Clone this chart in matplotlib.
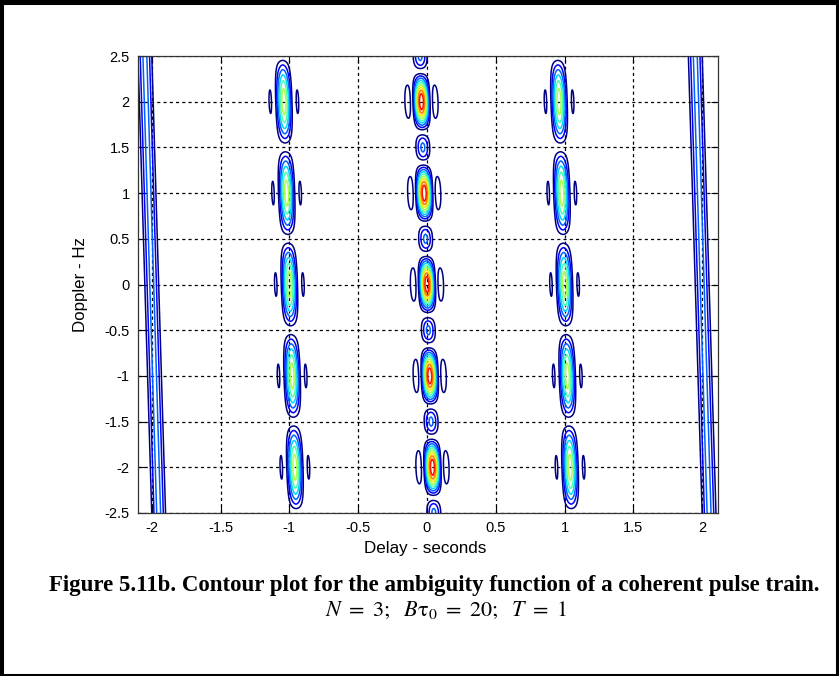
import numpy as np
import matplotlib
matplotlib.use("Agg")
import matplotlib.pyplot as plt
from matplotlib.patches import Rectangle

# ---- chart parameters (coherent pulse train ambiguity function) ----
N_pulses = 3            # N
PRI = 1.0               # T (s)
B_tau0 = 20             # time-bandwidth product of each pulse
mainlobe_width = 0.07   # delay resolution of a single pulse (s)
pulse_span = 0.4        # delay support taper (s)
coupling = 0.02         # range-Doppler coupling (s per Hz)
delay_range = [-2.1, 2.115]
doppler_range = [-2.5, 2.5]
contour_levels = [0.1, 0.2, 0.3, 0.4, 0.5, 0.6, 0.7, 0.8, 0.9]
xticks = [-2, -1.5, -1, -0.5, 0, 0.5, 1, 1.5, 2]
yticks = [-2.5, -2, -1.5, -1, -0.5, 0, 0.5, 1, 1.5, 2, 2.5]

W, H = 839, 676
fig = plt.figure(figsize=(W / 100, H / 100), dpi=100)

# ---- ambiguity surface ----
tau = np.linspace(delay_range[0], delay_range[1], 1400)
fd = np.linspace(doppler_range[0], doppler_range[1], 601) + 1e-6
TAU, FD = np.meshgrid(tau, fd)
amb = np.zeros_like(TAU)
for q in range(-(N_pulses - 1), N_pulses):
    u = TAU - q * PRI + coupling * FD
    env = np.abs(np.sinc(u / mainlobe_width)) * np.clip(1 - np.abs(u) / pulse_span, 0, None)
    dop = np.abs(np.sin(np.pi * FD * (N_pulses - abs(q)) * PRI) /
                 (N_pulses * np.sin(np.pi * FD * PRI)))
    amb += env * dop

ax = fig.add_axes([138 / W, 1 - 513 / H, 580 / W, 457 / H])
ax.contour(TAU, FD, amb, levels=contour_levels, cmap="jet",
           norm=matplotlib.colors.Normalize(vmin=0.1, vmax=1.0), linewidths=1.1)

ax.set_xlim(delay_range)
ax.set_ylim(doppler_range)
ax.set_xticks(xticks)
ax.set_yticks(yticks)
ax.set_xticklabels([f"{v:g}" for v in xticks])
ax.set_yticklabels([f"{v:g}" for v in yticks])
ax.grid(True, color="black", linestyle=(0, (2.5, 2.5)), linewidth=0.9)
ax.tick_params(direction="in", length=5, width=0.8, top=True, right=True,
               labelsize=10.5, pad=6)
for lab in ax.get_xticklabels() + ax.get_yticklabels():
    lab.set_family("Liberation Sans")
for s in ax.spines.values():
    s.set_color("#333333")
    s.set_linewidth(0.9)

fig.canvas.draw()
renderer = fig.canvas.get_renderer()


def fit_text(x, y, s, target_w, rotation=0, **kw):
    t = fig.text(x / W, 1 - y / H, s, ha="center", va="center", rotation=rotation, **kw)
    bb = t.get_window_extent(renderer)
    cur = bb.height if rotation else bb.width
    t.set_fontsize(t.get_fontsize() * target_w / cur)
    return t


fit_text(425, 549, "Delay - seconds", 122, family="Liberation Sans", fontsize=12)
fit_text(81, 285, "Doppler - Hz", 95, rotation=90, family="Liberation Sans", fontsize=12)
fit_text(434, 586, "Figure 5.11b. Contour plot for the ambiguity function of a coherent pulse train.",
         772, family="Liberation Serif", fontweight="bold", fontsize=14)
plt.rcParams["mathtext.fontset"] = "stix"
fit_text(446, 610, r"$N\ =\ 3;\ \ B\mathrm{\tau}_0\ =\ 20;\ \ T\ =\ 1$", 244, fontsize=14)

# outer frame
fig.add_artist(Rectangle((1.5 / W, 1 - 674.5 / H), 835 / W, 672 / H, transform=fig.transFigure,
                         fill=False, edgecolor="black", linewidth=2.2))
fig.add_artist(Rectangle((0, 1 - 4 / H), 1, 4 / H, transform=fig.transFigure,
                         facecolor="black", edgecolor="none"))
fig.add_artist(Rectangle((0, 0), 4 / W, 1, transform=fig.transFigure,
                         facecolor="black", edgecolor="none"))

fig.savefig("out.png", dpi=100)
